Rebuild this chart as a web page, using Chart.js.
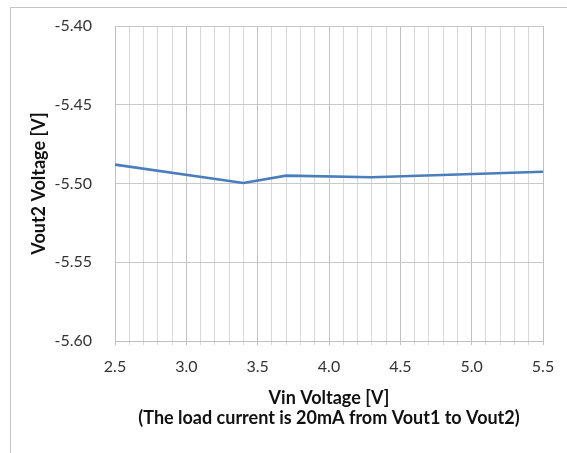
<!DOCTYPE html>
<html>
<head>
<meta charset="utf-8">
<script src="https://cdn.jsdelivr.net/npm/chart.js@4/dist/chart.umd.min.js"></script>
<style>
  html, body { margin: 0; padding: 0; background: #fff; }
  #wrap { position: relative; width: 567px; height: 453px; }
  #frame { position: absolute; left: 10px; top: 7px; width: 557px; height: 446px;
           border-top: 1px solid #c4c4c4; border-left: 1px solid #c4c4c4; box-sizing: border-box; }
  canvas { position: absolute; left: 0; top: 0; }
</style>
</head>
<body>
<div id="wrap">
  <div id="frame"></div>
  <canvas id="c" width="567" height="453"></canvas>
</div>
<script>
// Data
const vinVoltage = [2.5, 3.4, 3.7, 4.3, 5.5];
const vout2Voltage = [-5.488, -5.4997, -5.495, -5.496, -5.4925];
const xTickLabels = ['2.5', '3.0', '3.5', '4.0', '4.5', '5.0', '5.5'];
const yTickLabels = ['-5.40', '-5.45', '-5.50', '-5.55', '-5.60'];
const xTitle = ['Vin Voltage [V]', '(The load current is 20mA from Vout1 to Vout2)'];
const yTitle = 'Vout2 Voltage [V]';

const FONT = 'Lato, "Open Sans", sans-serif';
const points = vinVoltage.map((x, i) => ({ x: x, y: vout2Voltage[i] }));

function isMajor(v) {
  return xTickLabels.some(l => Math.abs(parseFloat(l) - v) < 1e-6);
}

new Chart(document.getElementById('c'), {
  type: 'line',
  data: {
    datasets: [{
      data: points,
      borderColor: '#4a7ebb',
      borderWidth: 2.6,
      pointRadius: 0,
      tension: 0,
      fill: false
    }]
  },
  options: {
    responsive: false,
    animation: false,
    devicePixelRatio: 1,
    layout: { padding: { left: 0, right: 24, top: 26, bottom: 0 } },
    plugins: { legend: { display: false }, tooltip: { enabled: false } },
    scales: {
      x: {
        type: 'linear',
        min: 2.5,
        max: 5.5,
        afterFit: s => { s.height = 112; },
        afterBuildTicks: s => {
          const t = [];
          for (let i = 0; i <= 30; i++) t.push({ value: Math.round((2.5 + i * 0.1) * 10) / 10 });
          s.ticks = t;
        },
        ticks: {
          autoSkip: false,
          maxRotation: 0,
          padding: 12,
          color: '#333333',
          font: { family: FONT, size: 16 },
          callback: function(v) {
            const idx = xTickLabels.findIndex(l => Math.abs(parseFloat(l) - v) < 1e-6);
            return idx >= 0 ? xTickLabels[idx] : '';
          }
        },
        grid: {
          color: ctx => (ctx.tick && isMajor(ctx.tick.value)) ? '#c0c0c0' : '#d9d9d9',
          lineWidth: 1,
          tickLength: 4,
          drawTicks: true
        },
        border: { color: '#bfbfbf' },
        title: {
          display: true,
          text: xTitle,
          color: '#111111',
          font: { family: FONT, size: 18, weight: 'bold', lineHeight: 1.1 },
          padding: { top: 0, bottom: 25 }
        }
      },
      y: {
        type: 'linear',
        min: -5.6,
        max: -5.4,
        afterFit: s => { s.width = 115; s.paddingTop = 0; s.paddingBottom = 0; },
        afterBuildTicks: s => {
          s.ticks = yTickLabels.map(l => ({ value: parseFloat(l) }));
        },
        ticks: {
          padding: 23,
          color: '#333333',
          font: { family: FONT, size: 16 },
          callback: function(v) {
            const idx = yTickLabels.findIndex(l => Math.abs(parseFloat(l) - v) < 1e-6);
            return idx >= 0 ? yTickLabels[idx] : '';
          }
        },
        grid: { color: '#c8c8c8', lineWidth: 1, drawTicks: false },
        border: { color: '#bfbfbf' },
        title: {
          display: true,
          text: yTitle,
          color: '#111111',
          font: { family: FONT, size: 18, weight: 'bold', lineHeight: 1.1 },
          padding: { top: 29, bottom: 0 }
        }
      }
    }
  }
});
</script>
</body>
</html>
